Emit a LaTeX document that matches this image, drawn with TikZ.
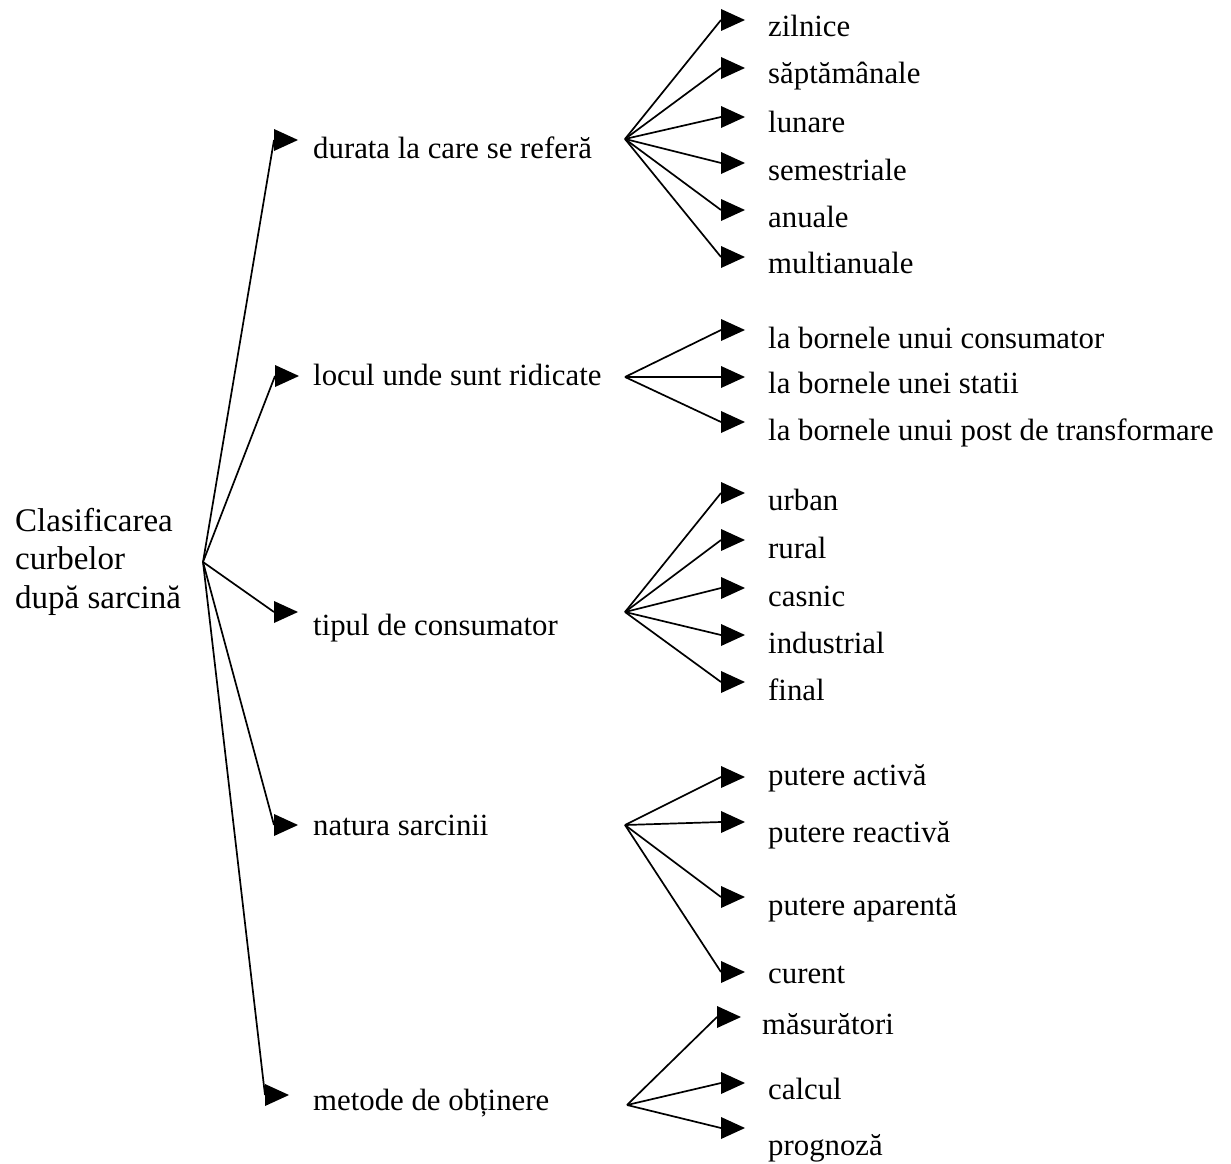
\documentclass[tikz,border=0pt]{standalone}
\usepackage{fontspec}
\setmainfont{Liberation Serif}
\begin{document}
\begin{tikzpicture}[x=1pt,y=-1pt,
  conn/.style={line width=1.7pt},
  item/.style={anchor=base west,inner sep=0pt,font=\fontsize{30.8}{36}\selectfont},
  rootlabel/.style={anchor=north west,inner sep=0pt,align=left,font=\fontsize{33}{38.5}\selectfont},
  head/.pic={\fill (0,-11) -- (24,0) -- (0,11) -- cycle;}]
\useasboundingbox (0,0) rectangle (1231,1164);

% root
\node[rootlabel] (root) at (15,508) {Clasificarea\\curbelor\\după sarcină};
\coordinate (r) at (203,562);

% first level
\coordinate (a1) at (274,140);
\coordinate (a2) at (275,376);
\coordinate (a3) at (274,612);
\coordinate (a4) at (274,825);
\coordinate (a5) at (265,1095);
\foreach \a in {a1,a2,a3,a4,a5}{\draw[conn] (r) -- (\a); \pic at (\a) {head};}
\node[item] (t1) at (313,158) {durata la care se referă};
\node[item] (t2) at (313,385) {locul unde sunt ridicate};
\node[item] (t3) at (313,635) {tipul de consumator};
\node[item] (t4) at (313,835) {natura sarcinii};
\node[item] (t5) at (313,1110) {metode de obținere};

% fan origins
\coordinate (f1) at (625,139);
\coordinate (f2) at (625,377);
\coordinate (f3) at (625,612);
\coordinate (f4) at (625,825);
\coordinate (f5) at (627,1105);

% durata
\foreach \y/\n in {20/b11,68/b12,117/b13,163/b14,210/b15,257/b16}{
  \coordinate (\n) at (721,\y); \draw[conn] (f1) -- (\n); \pic at (\n) {head};}
\node[item] (c11) at (768,37) {zilnice};
\node[item] (c12) at (768,83) {săptămânale};
\node[item] (c13) at (768,132) {lunare};
\node[item] (c14) at (768,180) {semestriale};
\node[item] (c15) at (768,227) {anuale};
\node[item] (c16) at (768,273) {multianuale};

% locul
\foreach \y/\n in {330/b21,377/b22,422/b23}{
  \coordinate (\n) at (721,\y); \draw[conn] (f2) -- (\n); \pic at (\n) {head};}
\node[item] (c21) at (768,348) {la bornele unui consumator};
\node[item] (c22) at (768,393) {la bornele unei statii};
\node[item] (c23) at (768,440) {la bornele unui post de transformare};

% tipul
\foreach \y/\n in {493/b31,540/b32,588/b33,635/b34,682/b35}{
  \coordinate (\n) at (721,\y); \draw[conn] (f3) -- (\n); \pic at (\n) {head};}
\node[item] (c31) at (768,510) {urban};
\node[item] (c32) at (768,558) {rural};
\node[item] (c33) at (768,606) {casnic};
\node[item] (c34) at (768,653) {industrial};
\node[item] (c35) at (768,700) {final};

% natura
\foreach \y/\n in {777/b41,822/b42,897/b43,972/b44}{
  \coordinate (\n) at (721,\y); \draw[conn] (f4) -- (\n); \pic at (\n) {head};}
\node[item] (c41) at (768,785) {putere activă};
\node[item] (c42) at (768,842) {putere reactivă};
\node[item] (c43) at (768,915) {putere aparentă};
\node[item] (c44) at (768,983) {curent};

% metode
\coordinate (b51) at (717,1017);
\coordinate (b52) at (721,1083);
\coordinate (b53) at (721,1128);
\foreach \n in {b51,b52,b53}{\draw[conn] (f5) -- (\n); \pic at (\n) {head};}
\node[item] (c51) at (762,1034) {măsurători};
\node[item] (c52) at (768,1099) {calcul};
\node[item] (c53) at (768,1155) {prognoză};
\end{tikzpicture}
\end{document}
